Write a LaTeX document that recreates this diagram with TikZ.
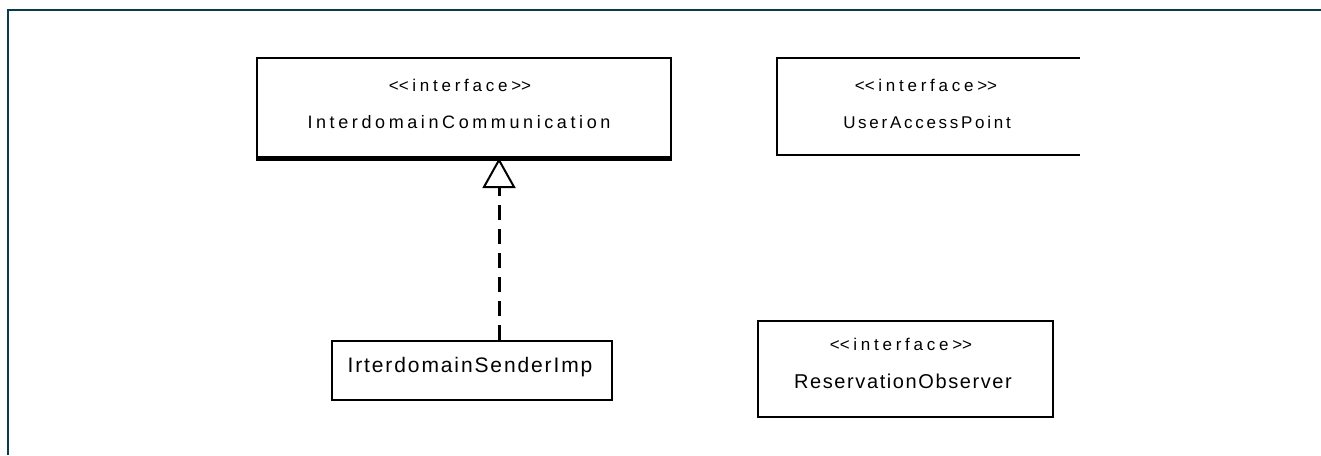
\documentclass[tikz,border=0pt]{standalone}
\usepackage{fontspec}
\setmainfont{Liberation Sans}[Ligatures=TeXOff]
\usetikzlibrary{arrows.meta}
\definecolor{framecol}{HTML}{0B3A4A}
\newcommand{\stereotype}{<\kern0pt<interface>\kern0pt>}
\tikzset{
  umlbox/.style={draw=black, line width=2pt, fill=white, inner sep=0pt},
  bare/.style={inner sep=0pt, outer sep=0pt},
  stereo/.style={bare, font=\fontsize{17}{19}\selectfont\addfontfeatures{LetterSpace=22}},
  realize/.style={line width=3pt, dash pattern=on 15pt off 9pt,
    -{Triangle[open, length=30pt, width=33pt, line width=2pt]}},
}
\begin{document}
\begin{tikzpicture}[x=1pt, y=-1pt]
\useasboundingbox (0,0) rectangle (1321,455);
\fill[white] (0,0) rectangle (1321,455);
% outer frame
\draw[framecol, line width=2pt] (8,455) -- (8,10) -- (1321,10);

% InterdomainCommunication
\node[umlbox, minimum width=414pt, minimum height=99pt] (ic) at (464,107.5) {};
\draw[line width=3.5pt] ([yshift=-1pt]ic.south west) -- ([yshift=-1pt]ic.south east);
\node[stereo] (ics) at (460,85) {\stereotype};
\node[bare, font=\fontsize{18}{20}\selectfont\addfontfeatures{LetterSpace=20}] (icn) at (459,122) {InterdomainCommunication};

% UserAccessPoint (cut at the right side)
\node[bare, minimum width=303pt, minimum height=97pt] (uap) at (928.5,106.5) {};
\draw[line width=2pt] (uap.north east) -- (uap.north west) -- (uap.south west) -- (uap.south east);
\node[stereo] (uaps) at (926,85) {\stereotype};
\node[bare, font=\fontsize{17}{19}\selectfont\addfontfeatures{LetterSpace=16}] (uapn) at (927,122) {UserAccessPoint};

% IrterdomainSenderImp
\node[umlbox, minimum width=280pt, minimum height=59pt] (isi) at (472,370.5) {};
\node[bare, font=\fontsize{21}{23}\selectfont\addfontfeatures{LetterSpace=9}] (isin) at (470,367) {IrterdomainSenderImp};

% ReservationObserver
\node[umlbox, minimum width=295pt, minimum height=96pt] (ro) at (905.5,369) {};
\node[stereo] (ros) at (901,344) {\stereotype};
\node[bare, font=\fontsize{20}{22}\selectfont\addfontfeatures{LetterSpace=8}] (ron) at (903,381) {ReservationObserver};

% realization
\draw[realize] (isi.north -| 499,0) -- (ic.south -| 499,0);
\end{tikzpicture}
\end{document}
